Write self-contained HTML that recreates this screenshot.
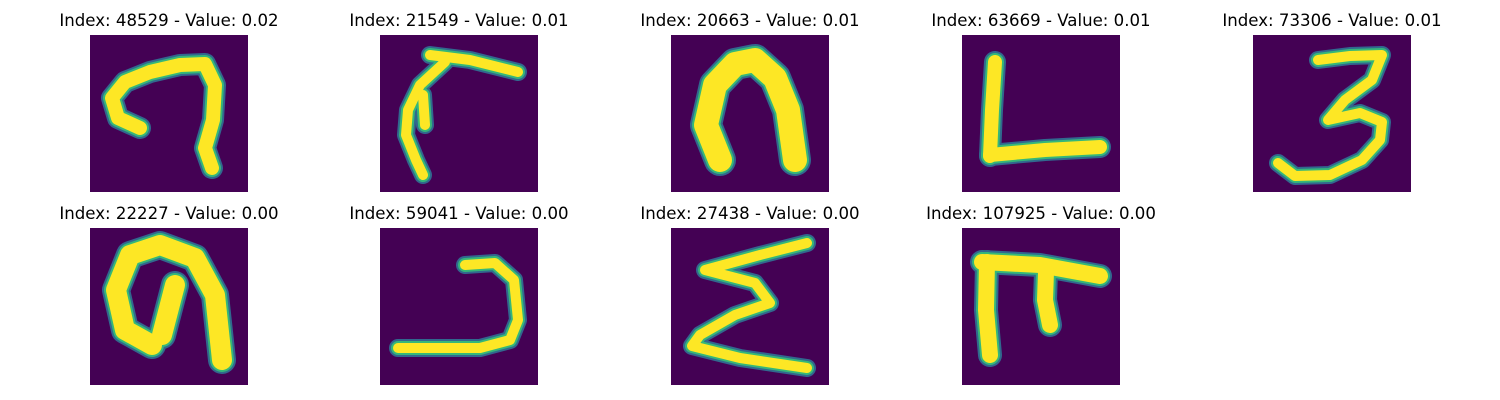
<!DOCTYPE html>
<html><head><meta charset="utf-8">
<style>
body{margin:0;background:#fff;width:1500px;height:400px;overflow:hidden}
svg{display:block}
text{font-family:"DejaVu Sans","Liberation Sans",sans-serif;font-size:16.6px;fill:#000}
</style></head>
<body>
<svg id="fig" width="1500" height="400"></svg>
<script>
const indices=[48529,21549,20663,63669,73306,22227,59041,27438,107925];
const values=["0.02","0.01","0.01","0.01","0.01","0.00","0.00","0.00","0.00"];
const colX=[90,380,671,962,1253];
const rowY=[35,228];
const strokes=[
 [[[140,128],[118,118],[112,98],[125,82],[150,72],[180,65],[205,64],[215,85],[213,120],[205,148],[212,168]],14],
 [[[430,55],[470,60],[518,72]],[[445,62],[420,85],[408,110],[406,135],[416,160],[423,175]],[[423,95],[425,125]],10],
 [[[720,160],[706,125],[715,85],[735,64],[755,60],[775,78],[788,110],[795,160]],24],
 [[[995,62],[992,110],[990,156]],[[990,155],[1045,150],[1100,147]],14],
 [[[1318,60],[1350,56],[1382,55],[1372,80],[1345,100],[1328,120],[1360,113],[1382,122],[1380,140],[1362,160],[1330,175],[1295,176],[1278,163]],10],
 [[[152,345],[125,330],[116,290],[130,255],[160,245],[195,258],[215,295],[222,360]],[[175,285],[162,335]],20],
 [[[465,265],[495,263],[514,280],[518,320],[510,340],[480,348],[398,348]],10],
 [[[807,243],[760,255],[705,270],[755,283],[770,303],[735,315],[700,335],[692,346],[740,358],[807,368]],10],
 [[[987,262],[986,310],[990,355]],[[982,262],[1040,265],[1100,276]],[[1046,272],[1045,300],[1050,325]],16]
];
const svg=document.getElementById('fig');
const NS='http://www.w3.org/2000/svg';
indices.forEach((idx,i)=>{
  const c=i%5, r=Math.floor(i/5);
  const x0=colX[c], y0=rowY[r];
  const g=document.createElementNS(NS,'g');
  
  
  const t=document.createElementNS(NS,'text');
  
  
  t.setAttribute('x',x0+79);t.setAttribute('y',y0-9);t.setAttribute('text-anchor','middle');
  t.textContent='Index: '+idx+' - Value: '+values[i];
  g.appendChild(t);
  const rect=document.createElementNS(NS,'rect');
  
  
  rect.setAttribute('x',x0);rect.setAttribute('y',y0);rect.setAttribute('width',158);rect.setAttribute('height',157);
  rect.setAttribute('fill','#440154');
  g.appendChild(rect);
  const s=strokes[i]; const w=s[s.length-1];
  [[w+8,'#31688e'],[w+4,'#35b779'],[w,'#fde725']].forEach(([sw,col])=>{
    for(let k=0;k<s.length-1;k++){
      const p=document.createElementNS(NS,'polyline');
      
      
      p.setAttribute('points',s[k].map(q=>q.join(',')).join(' '));
      p.setAttribute('fill','none');p.setAttribute('stroke',col);p.setAttribute('stroke-width',sw);
      p.setAttribute('stroke-linecap','round');p.setAttribute('stroke-linejoin','round');
      g.appendChild(p);
    }
  });
  svg.appendChild(g);
});
</script>
</body></html>
